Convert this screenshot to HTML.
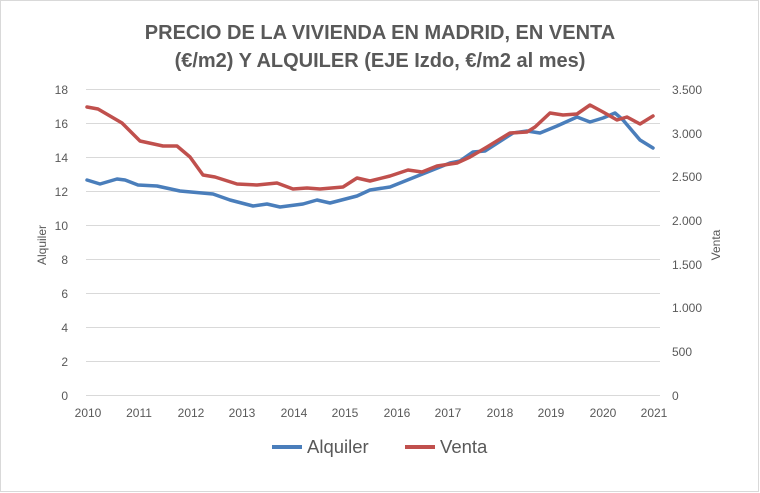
<!DOCTYPE html>
<html><head><meta charset="utf-8"><style>
body{margin:0;background:#fff}
svg{display:block;font-family:"Liberation Sans",sans-serif}
</style></head><body>
<svg width="760" height="493" viewBox="0 0 760 493">
<rect x="0.5" y="0.5" width="758" height="491" fill="#fff" stroke="#d9d9d9"/>
<g font-weight="bold" font-size="20" fill="#595959" text-anchor="middle">
<text x="380" y="39">PRECIO DE LA VIVIENDA EN MADRID, EN VENTA</text>
<text x="380" y="67">(€/m2) Y ALQUILER (EJE Izdo, €/m2 al mes)</text>
</g>
<g stroke="#d9d9d9" stroke-width="1">
<line x1="86" x2="660" y1="89.5" y2="89.5"/><line x1="86" x2="660" y1="123.5" y2="123.5"/>
<line x1="86" x2="660" y1="157.5" y2="157.5"/><line x1="86" x2="660" y1="191.5" y2="191.5"/>
<line x1="86" x2="660" y1="225.5" y2="225.5"/><line x1="86" x2="660" y1="259.5" y2="259.5"/>
<line x1="86" x2="660" y1="293.5" y2="293.5"/><line x1="86" x2="660" y1="327.5" y2="327.5"/>
<line x1="86" x2="660" y1="361.5" y2="361.5"/><line x1="86" x2="660" y1="395.5" y2="395.5"/>
</g>
<g font-size="12" fill="#595959" text-anchor="end">
<text x="68" y="94">18</text><text x="68" y="128">16</text><text x="68" y="162">14</text>
<text x="68" y="196">12</text><text x="68" y="230">10</text><text x="68" y="264">8</text>
<text x="68" y="298">6</text><text x="68" y="332">4</text><text x="68" y="366">2</text><text x="68" y="400">0</text>
</g>
<g font-size="12" fill="#595959" text-anchor="start">
<text x="672" y="94">3.500</text><text x="672" y="138">3.000</text><text x="672" y="181">2.500</text>
<text x="672" y="225">2.000</text><text x="672" y="269">1.500</text><text x="672" y="312">1.000</text>
<text x="672" y="356">500</text><text x="672" y="400">0</text>
</g>
<g font-size="12" fill="#595959" text-anchor="middle">
<text x="88" y="417">2010</text><text x="139" y="417">2011</text><text x="191" y="417">2012</text>
<text x="242" y="417">2013</text><text x="294" y="417">2014</text><text x="345" y="417">2015</text>
<text x="397" y="417">2016</text><text x="448" y="417">2017</text><text x="500" y="417">2018</text>
<text x="551" y="417">2019</text><text x="603" y="417">2020</text><text x="654" y="417">2021</text>
</g>
<text transform="translate(46,245) rotate(-90)" font-size="12" fill="#595959" text-anchor="middle">Alquiler</text>
<text transform="translate(720,245) rotate(-90)" font-size="12" fill="#595959" text-anchor="middle">Venta</text>
<polyline fill="none" stroke="#4a7ebb" stroke-width="3.5" stroke-linejoin="round" stroke-linecap="round" points="87,180 100,184 117,179 125,180 138,185 157,186 180,191 213,194 230,200 253,206 267,204 280,207 303,204 317,200 330,203 357,196 370,190 390,187 420,175 450,163 460,161 473,152 485,151 513,133 527,131 540,133 557,126 577,117 590,122 603,118 615,113 623,120 640,140 653,148"/>
<polyline fill="none" stroke="#c0504d" stroke-width="3.5" stroke-linejoin="round" stroke-linecap="round" points="87,107 98,109 122,123 140,141 163,146 177,146 190,157 203,175 215,177 237,184 257,185 277,183 293,189 307,188 320,189 343,187 357,178 370,181 390,176 408,170 422,172 437,166 457,163 470,157 487,147 510,133 527,132 535,127 550,113 563,115 577,114 590,105 603,112 617,120 627,117 640,124 653,116"/>
<line x1="272" x2="302" y1="447" y2="447" stroke="#4a7ebb" stroke-width="4"/>
<text x="307" y="453" font-size="18.5" fill="#595959">Alquiler</text>
<line x1="405" x2="435" y1="447" y2="447" stroke="#c0504d" stroke-width="4"/>
<text x="440" y="453" font-size="18.5" fill="#595959">Venta</text>
</svg>
</body></html>
